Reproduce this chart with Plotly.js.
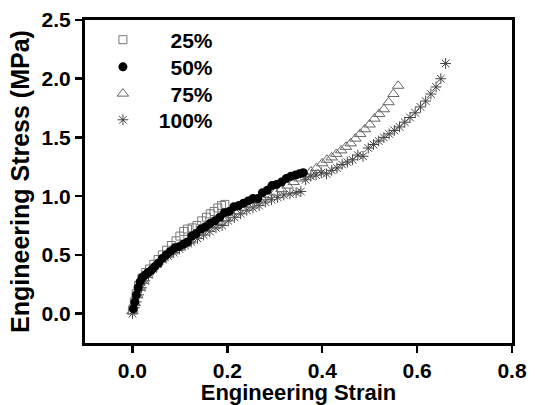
<!DOCTYPE html>
<html>
<head>
<meta charset="utf-8">
<script src="https://cdn.plot.ly/plotly-3.0.1.min.js"></script>
<style>html,body{margin:0;padding:0;background:#fff;}#chart{width:535px;height:405px;}</style>
</head>
<body>
<div id="chart"></div>
<script>
// Series names (figure / thin spaces right-align the labels as in the original)
var seriesNames = ["\u2007\u2007\u200925%", "\u2007\u2007\u200950%", "\u2007\u2007\u200975%", "\u2007\u2009100%"];

// 25% series
var s25x = [0, 0.004, 0.008, 0.013, 0.02, 0.028, 0.036, 0.045, 0.054, 0.063, 0.072, 0.082, 0.092, 0.1, 0.108, 0.116, 0.126, 0.136, 0.146, 0.156, 0.164, 0.172, 0.18, 0.188, 0.195];
var s25y = [0.03, 0.1, 0.17, 0.24, 0.3, 0.35, 0.38, 0.42, 0.46, 0.5, 0.54, 0.58, 0.62, 0.66, 0.7, 0.72, 0.73, 0.75, 0.79, 0.82, 0.85, 0.87, 0.9, 0.92, 0.93];

// 50% series
var s50x = [0.002,0.005,0.008,0.012,0.016,0.021,0.027,0.033,0.04,0.047,0.055,0.063,0.071,0.08,0.089,0.098,0.107,0.116,0.125,0.134,0.144,0.154,0.164,0.174,0.184,0.194,0.204,0.214,0.224,0.234,0.244,0.254,0.264,0.274,0.284,0.294,0.304,0.314,0.324,0.334,0.344,0.352,0.36];
var s50y = [0.04,0.1,0.16,0.22,0.27,0.31,0.33,0.35,0.37,0.4,0.43,0.47,0.5,0.53,0.56,0.57,0.59,0.61,0.66,0.68,0.72,0.74,0.77,0.79,0.82,0.86,0.87,0.91,0.92,0.94,0.96,0.98,0.98,1.03,1.05,1.09,1.1,1.12,1.15,1.17,1.18,1.19,1.2];

// 75% series
var s75x = [0,0.005,0.01,0.016,0.023,0.031,0.04,0.05,0.06,0.072,0.084,0.096,0.108,0.12,0.132,0.145,0.158,0.171,0.184,0.197,0.21,0.223,0.236,0.249,0.262,0.275,0.288,0.301,0.314,0.327,0.34,0.352,0.364,0.376,0.388,0.4,0.41,0.42,0.43,0.44,0.45,0.46,0.47,0.48,0.49,0.5,0.51,0.52,0.53,0.54,0.55,0.56];
var s75y = [0.02,0.09,0.16,0.22,0.28,0.33,0.38,0.42,0.46,0.5,0.53,0.56,0.59,0.62,0.66,0.69,0.72,0.75,0.78,0.81,0.84,0.87,0.9,0.93,0.96,0.99,1.01,1.03,1.06,1.09,1.12,1.15,1.18,1.21,1.24,1.28,1.31,1.33,1.36,1.39,1.42,1.45,1.49,1.53,1.57,1.61,1.66,1.7,1.74,1.8,1.87,1.94];

// 100% series
var s100x = [0,0.004,0.008,0.013,0.019,0.026,0.034,0.043,0.053,0.064,0.075,0.087,0.099,0.111,0.124,0.137,0.15,0.163,0.176,0.189,0.202,0.215,0.228,0.241,0.254,0.267,0.28,0.293,0.306,0.319,0.332,0.345,0.355,0.365,0.376,0.387,0.398,0.409,0.42,0.431,0.442,0.453,0.464,0.475,0.486,0.497,0.508,0.519,0.53,0.541,0.552,0.563,0.574,0.585,0.596,0.607,0.618,0.629,0.64,0.65,0.66];
var s100y = [0,0.05,0.1,0.16,0.22,0.28,0.33,0.38,0.42,0.46,0.49,0.52,0.55,0.58,0.61,0.64,0.67,0.7,0.73,0.75,0.79,0.82,0.85,0.88,0.9,0.92,0.95,0.97,0.99,1.01,1.02,1.03,1.04,1.14,1.17,1.18,1.2,1.19,1.22,1.24,1.27,1.29,1.31,1.35,1.34,1.41,1.44,1.47,1.5,1.53,1.56,1.59,1.63,1.67,1.71,1.76,1.81,1.87,1.93,2.0,2.13];

// Tick values
var xTicks = [0.0, 0.2, 0.4, 0.6, 0.8];
var xTickText = ["0.0", "0.2", "0.4", "0.6", "0.8"];
var yTicks = [0.0, 0.5, 1.0, 1.5, 2.0, 2.5];
var yTickText = ["0.0", "0.5", "1.0", "1.5", "2.0", "2.5"];

var FAM = "Liberation Sans, Arial, sans-serif";

var traces = [
  {x: s100x, y: s100y, name: seriesNames[3], mode: "markers", type: "scatter", legend: "legend4",
   marker: {symbol: "asterisk-open", size: 9, color: "#444", line: {color: "#444", width: 1}}},
  {x: s75x, y: s75y, name: seriesNames[2], mode: "markers", type: "scatter", legend: "legend3",
   marker: {symbol: "triangle-up-open", size: 10, color: "#666", line: {color: "#666", width: 1}}},
  {x: s25x, y: s25y, name: seriesNames[0], mode: "markers", type: "scatter", legend: "legend",
   marker: {symbol: "square-open", size: 8, color: "#777", line: {color: "#777", width: 1}}},
  {x: s50x, y: s50y, name: seriesNames[1], mode: "markers", type: "scatter", legend: "legend2",
   marker: {symbol: "circle", size: 9, color: "#000"}}
];

function legendAt(yPos) {
  return {x: 0.042, y: yPos, xanchor: "left", yanchor: "middle", bgcolor: "rgba(0,0,0,0)",
    font: {size: 21, family: FAM, color: "#000", weight: 700}, itemwidth: 30, itemsizing: "trace"};
}

var layout = {
  width: 535, height: 405,
  margin: {l: 85, r: 23, t: 20, b: 62},
  paper_bgcolor: "#fff", plot_bgcolor: "#fff",
  font: {family: FAM, color: "#000", weight: 700},
  showlegend: true,
  legend: legendAt(0.938),
  legend2: legendAt(0.854),
  legend3: legendAt(0.771),
  legend4: legendAt(0.690),
  xaxis: {
    range: [-0.1, 0.8], tickvals: xTicks, ticktext: xTickText,
    showgrid: false, zeroline: false, showline: true, linewidth: 3, linecolor: "#000", mirror: true,
    ticks: "outside", ticklen: 7, tickwidth: 2.5, tickcolor: "#000",
    tickfont: {size: 21, family: FAM, color: "#000", weight: 700},
    title: {text: "Engineering Strain", font: {size: 22, family: FAM, color: "#000", weight: 700}, standoff: 8}
  },
  yaxis: {
    range: [-0.25, 2.5], tickvals: yTicks, ticktext: yTickText,
    showgrid: false, zeroline: false, showline: true, linewidth: 3, linecolor: "#000", mirror: true,
    ticks: "outside", ticklen: 7, tickwidth: 2.5, tickcolor: "#000",
    tickfont: {size: 21, family: FAM, color: "#000", weight: 700},
    title: {text: "Engineering Stress (MPa)", font: {size: 25, family: FAM, color: "#000", weight: 700}, standoff: 5}
  }
};

Plotly.newPlot("chart", traces, layout, {displayModeBar: false, staticPlot: true});
</script>
</body>
</html>
